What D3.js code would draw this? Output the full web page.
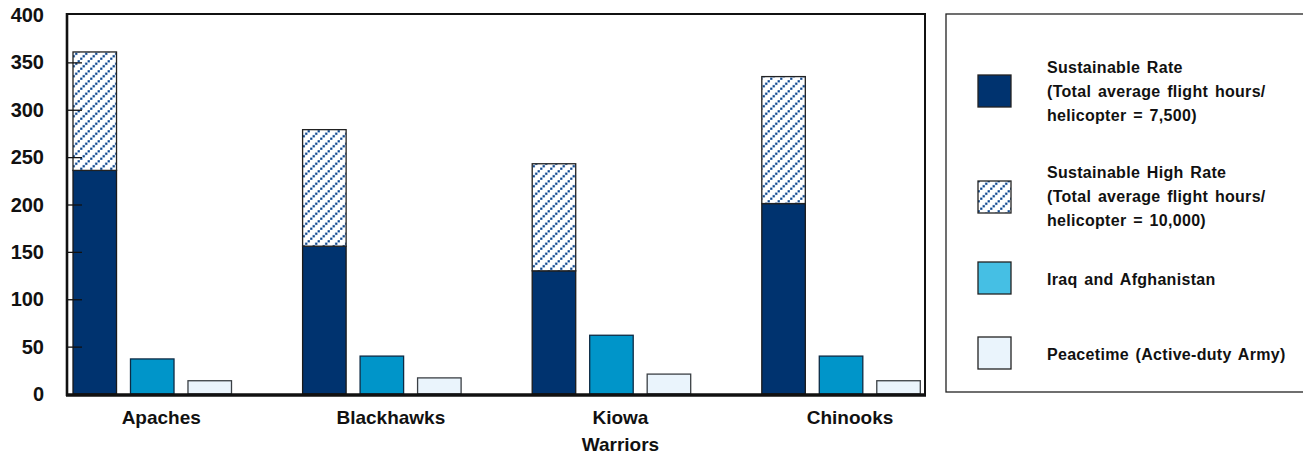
<!DOCTYPE html>
<html><head><meta charset="utf-8">
<script src="https://cdn.jsdelivr.net/npm/d3@7"></script>
<style>
html,body{margin:0;padding:0;background:#fff;}
svg{display:block;}
text{font-family:"Liberation Sans",Arial,sans-serif;font-weight:bold;fill:#111;}
</style></head>
<body><svg id="c" width="1303" height="456"></svg>
<script>
const categories = ["Apaches", "Blackhawks", "Kiowa\nWarriors", "Chinooks"];
const sustainable = [236, 156, 130, 201];
const sustainableHigh = [361, 279, 243, 335];
const iraqAfghan = [37, 40, 62, 40];
const peacetime = [14, 17, 21, 14];
const yTicks = [0, 50, 100, 150, 200, 250, 300, 350, 400];
const legendItems = [
  {key:"sus", lines:["Sustainable Rate","(Total average flight hours/","helicopter = 7,500)"]},
  {key:"high", lines:["Sustainable High Rate","(Total average flight hours/","helicopter = 10,000)"]},
  {key:"iraq", lines:["Iraq and Afghanistan"]},
  {key:"peace", lines:["Peacetime (Active-duty Army)"]}
];

const NAVY = "#00336f", IRAQ = "#0095c9", IRAQ_LEG = "#45bfe4", PEACE = "#eaf4fc";
const svg = d3.select("#c");
const defs = svg.append("defs");
const T = 10;
const pat = defs.append("pattern").attr("id","hatch").attr("patternUnits","userSpaceOnUse")
  .attr("width",T).attr("height",T);
pat.append("rect").attr("width",T).attr("height",T).attr("fill","#fff");
const dots = [];
for (let k = -1; k <= 4; k++) { const cx = 1.25 + k*2.5; dots.push([cx, T - cx]); }
dots.forEach(([cx,cy])=>{
  pat.append("rect").attr("x",cx-1.4).attr("y",cy-1.4).attr("width",2.8).attr("height",2.8).attr("fill","#b9cde6");
});
dots.forEach(([cx,cy])=>{
  pat.append("rect").attr("x",cx-1).attr("y",cy-1).attr("width",2).attr("height",2).attr("fill","#134a8e");
});

const pLeft = 67, pTop = 15, pRight = 925, pBottom = 394;
const y = d3.scaleLinear().domain([0,400]).range([pBottom, pTop]);
const x = d3.scaleBand().domain(categories).range([73, 73 + 4*229.6]).paddingInner(0).paddingOuter(0);
const sub = d3.scaleBand().domain(["sus","iraq","peace"]).range([0,158.5]).paddingInner(0.243);
const bw = sub.bandwidth();

// frame
svg.append("line").attr("x1",pLeft).attr("x2",pRight).attr("y1",pTop-1).attr("y2",pTop-1).attr("stroke","#111").attr("stroke-width",2);
svg.append("line").attr("x1",pRight).attr("x2",pRight).attr("y1",pTop-2).attr("y2",pBottom).attr("stroke","#111").attr("stroke-width",2);

const g = svg.append("g");
categories.forEach((c,i)=>{
  const x0 = x(c);
  g.append("rect").attr("x",x0+sub("sus")).attr("width",bw)
    .attr("y",y(sustainable[i])).attr("height",y(0)-y(sustainable[i]))
    .attr("fill",NAVY).attr("stroke","#1a1a1a").attr("stroke-width",1.3);
  g.append("rect").attr("x",x0+sub("sus")).attr("width",bw)
    .attr("y",y(sustainableHigh[i])).attr("height",y(sustainable[i])-y(sustainableHigh[i]))
    .attr("fill","url(#hatch)").attr("stroke","#222").attr("stroke-width",1.3);
  g.append("rect").attr("x",x0+sub("iraq")).attr("width",bw)
    .attr("y",y(iraqAfghan[i])).attr("height",y(0)-y(iraqAfghan[i]))
    .attr("fill",IRAQ).attr("stroke","#0d2b45").attr("stroke-width",1.3);
  g.append("rect").attr("x",x0+sub("peace")).attr("width",bw)
    .attr("y",y(peacetime[i])).attr("height",y(0)-y(peacetime[i]))
    .attr("fill",PEACE).attr("stroke","#3a3f44").attr("stroke-width",1.3);
  const lines = c.split("\n");
  const t = svg.append("text").attr("text-anchor","middle").attr("font-size",19);
  lines.forEach((l,k)=>t.append("tspan").attr("x", x0+sub("iraq")+bw/2+9).attr("y", 424+k*27).text(l));
});

// y axis
const yAxis = d3.axisRight(y).tickValues(yTicks).tickSize(15).tickFormat("");
const ya = svg.append("g").attr("transform",`translate(${pLeft},0)`).call(yAxis);
ya.select(".domain").remove();
ya.selectAll(".tick line").attr("stroke","#111").attr("stroke-width",1.3)
  .filter(d=>d===0||d===400).remove();
svg.append("g").selectAll("text").data(yTicks).join("text")
  .attr("x",44).attr("y",d=>y(d)+7).attr("text-anchor","end").attr("font-size",20).text(d=>d);
svg.append("line").attr("x1",pLeft).attr("x2",pLeft).attr("y1",pTop-2).attr("y2",pBottom+2).attr("stroke","#111").attr("stroke-width",2.6);
svg.append("line").attr("x1",pLeft-1).attr("x2",pRight+1).attr("y1",pBottom+1).attr("y2",pBottom+1).attr("stroke","#111").attr("stroke-width",3.5);

// legend
svg.append("rect").attr("x",946).attr("y",14).attr("width",400).attr("height",378)
  .attr("fill","none").attr("stroke","#222").attr("stroke-width",1.3);
const swY = [75, 181, 262, 337];
const txtY = [73, 178, 285, 360];
const fills = {sus:NAVY, high:"url(#hatch)", iraq:IRAQ_LEG, peace:PEACE};
legendItems.forEach((it,i)=>{
  svg.append("rect").attr("x",978).attr("y",swY[i]).attr("width",33).attr("height",32)
    .attr("fill",fills[it.key]).attr("stroke","#222").attr("stroke-width",1.3);
  const t = svg.append("text").attr("font-size",16).attr("letter-spacing",0.3).attr("word-spacing",2);
  it.lines.forEach((l,k)=>t.append("tspan").attr("x",1047).attr("y",txtY[i]+k*24).text(l));
});
</script></body></html>
